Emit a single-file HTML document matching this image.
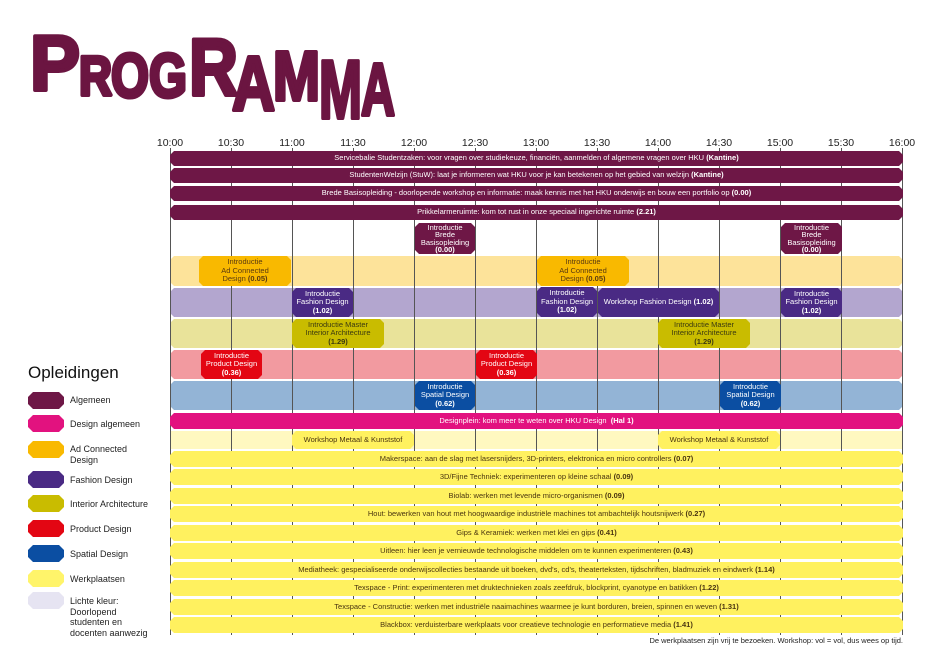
<!DOCTYPE html>
<html><head><meta charset="utf-8"><style>
body{margin:0;width:940px;height:671px;background:#fff;position:relative;overflow:hidden;font-family:"Liberation Sans",sans-serif}
.a{position:absolute}
.b{position:absolute;display:flex;align-items:center;justify-content:center;text-align:center;font-size:7.5px;line-height:8.5px;clip-path:polygon(4px 0,calc(100% - 4px) 0,100% 4px,100% calc(100% - 4px),calc(100% - 4px) 100%,4px 100%,0 calc(100% - 4px),0 4px);color:#fff;white-space:nowrap}
.b>span{display:block}
.g{background:#6e1746}.dp{background:#e2127f}
.ad{background:#f9b900;color:#5a3a10}.adl{background:#fde39a}
.fa{background:#4a2a84}.fal{background:#b3a6cf}
.ia{background:#c9bc00;color:#3b3a10}.ial{background:#e9e39a}
.pr{background:#e30613}.prl{background:#f29aa0}
.sp{background:#0b4ea2}.spl{background:#93b4d6}
.y{background:#fff15f;color:#4a3510}
.v{position:absolute;top:148px;height:487px;width:1px;background:#555}
.t{position:absolute;top:137px;font-size:10.5px;width:40px;margin-left:-20px;text-align:center;color:#222}
.lg{position:absolute;left:28px;width:36px;height:17px;clip-path:polygon(5px 0,31px 0,36px 5px,36px 12px,31px 17px,5px 17px,0 12px,0 5px)}
.lt{position:absolute;left:70px;font-size:9px;line-height:10.5px;color:#222}
</style></head><body>
<svg class="a" style="left:0;top:0" width="420" height="130">
<g fill="#6b1541" stroke="#6b1541" stroke-width="4" stroke-linejoin="round" font-family="Liberation Sans" font-weight="bold">
<text x="30" y="90" font-size="78" textLength="50" lengthAdjust="spacingAndGlyphs">P</text>
<text x="79" y="95" font-size="56" textLength="33" lengthAdjust="spacingAndGlyphs">R</text>
<text x="111" y="97" font-size="62" textLength="38" lengthAdjust="spacingAndGlyphs">O</text>
<text x="149" y="97" font-size="62" textLength="38" lengthAdjust="spacingAndGlyphs">G</text>
<text x="189" y="95" font-size="81" textLength="49" lengthAdjust="spacingAndGlyphs">R</text>
<text x="232" y="110" font-size="77" textLength="43" lengthAdjust="spacingAndGlyphs">A</text>
<text x="273" y="100" font-size="70" textLength="47" lengthAdjust="spacingAndGlyphs">M</text>
<text x="319" y="118" font-size="83" textLength="43" lengthAdjust="spacingAndGlyphs">M</text>
<text x="361" y="115" font-size="74" textLength="34" lengthAdjust="spacingAndGlyphs">A</text>
</g></svg>

<div class="t" style="left:170px">10:00</div><div class="t" style="left:231px">10:30</div><div class="t" style="left:292px">11:00</div><div class="t" style="left:353px">11:30</div><div class="t" style="left:414px">12:00</div><div class="t" style="left:475px">12:30</div><div class="t" style="left:536px">13:00</div><div class="t" style="left:597px">13:30</div><div class="t" style="left:658px">14:00</div><div class="t" style="left:719px">14:30</div><div class="t" style="left:780px">15:00</div><div class="t" style="left:841px">15:30</div><div class="t" style="left:902px">16:00</div>

<div class="b adl" style="left:170px;top:256px;width:733px;height:30px"></div>
<div class="b fal" style="left:170px;top:288px;width:733px;height:29px"></div>
<div class="b ial" style="left:170px;top:319px;width:733px;height:29px"></div>
<div class="b prl" style="left:170px;top:350px;width:733px;height:29px"></div>
<div class="b spl" style="left:170px;top:381px;width:733px;height:29px"></div>
<div class="a" style="left:170px;top:431px;width:733px;height:18px;background:#fff8c0"></div>

<div class="v" style="left:170px"></div><div class="v" style="left:231px"></div><div class="v" style="left:292px"></div><div class="v" style="left:353px"></div><div class="v" style="left:414px"></div><div class="v" style="left:475px"></div><div class="v" style="left:536px"></div><div class="v" style="left:597px"></div><div class="v" style="left:658px"></div><div class="v" style="left:719px"></div><div class="v" style="left:780px"></div><div class="v" style="left:841px"></div><div class="v" style="left:902px"></div>

<div class="b g" style="left:170px;top:151px;width:733px;height:15px"><span>Servicebalie Studentzaken: voor vragen over studiekeuze, financiën, aanmelden of algemene vragen over HKU <b>(Kantine)</b></span></div>
<div class="b g" style="left:170px;top:168px;width:733px;height:15px"><span>StudentenWelzijn (StuW): laat je informeren wat HKU voor je kan betekenen op het gebied van welzijn <b>(Kantine)</b></span></div>
<div class="b g" style="left:170px;top:186px;width:733px;height:15px"><span>Brede Basisopleiding - doorlopende workshop en informatie: maak kennis met het HKU onderwijs en bouw een portfolio op <b>(0.00)</b></span></div>
<div class="b g" style="left:170px;top:205px;width:733px;height:15px"><span>Prikkelarmeruimte: kom tot rust in onze speciaal ingerichte ruimte <b>(2.21)</b></span></div>
<div class="b g" style="left:415px;top:223px;width:60px;height:31px;line-height:7.2px"><span>Introductie<br>Brede<br>Basisopleiding<br><b>(0.00)</b></span></div>
<div class="b g" style="left:781px;top:223px;width:61px;height:31px;line-height:7.2px"><span>Introductie<br>Brede<br>Basisopleiding<br><b>(0.00)</b></span></div>

<div class="b ad" style="left:199px;top:256px;width:92px;height:30px"><span>Introductie<br>Ad Connected<br>Design <b>(0.05)</b></span></div>
<div class="b ad" style="left:537px;top:256px;width:92px;height:30px"><span>Introductie<br>Ad Connected<br>Design <b>(0.05)</b></span></div>

<div class="b fa" style="left:292px;top:288px;width:61px;height:29px"><span>Introductie<br>Fashion Design<br><b>(1.02)</b></span></div>
<div class="b fa" style="left:537px;top:287px;width:60px;height:30px"><span>Introductie<br>Fashion Design<br><b>(1.02)</b></span></div>
<div class="b fa" style="left:598px;top:288px;width:121px;height:29px"><span>Workshop Fashion Design <b>(1.02)</b></span></div>
<div class="b fa" style="left:781px;top:288px;width:61px;height:29px"><span>Introductie<br>Fashion Design<br><b>(1.02)</b></span></div>

<div class="b ia" style="left:292px;top:319px;width:92px;height:29px"><span>Introductie Master<br>Interior Architecture<br><b>(1.29)</b></span></div>
<div class="b ia" style="left:658px;top:319px;width:92px;height:29px"><span>Introductie Master<br>Interior Architecture<br><b>(1.29)</b></span></div>

<div class="b pr" style="left:201px;top:350px;width:61px;height:29px"><span>Introductie<br>Product Design<br><b>(0.36)</b></span></div>
<div class="b pr" style="left:476px;top:350px;width:61px;height:29px"><span>Introductie<br>Product Design<br><b>(0.36)</b></span></div>

<div class="b sp" style="left:415px;top:381px;width:60px;height:29px"><span>Introductie<br>Spatial Design<br><b>(0.62)</b></span></div>
<div class="b sp" style="left:720px;top:381px;width:61px;height:29px"><span>Introductie<br>Spatial Design<br><b>(0.62)</b></span></div>

<div class="b dp" style="left:170px;top:413px;width:733px;height:16px"><span>Designplein: kom meer te weten over HKU Design&nbsp; <b>(Hal 1)</b></span></div>

<div class="b y" style="left:292px;top:431px;width:122px;height:18px"><span>Workshop Metaal &amp; Kunststof</span></div>
<div class="b y" style="left:658px;top:431px;width:122px;height:18px"><span>Workshop Metaal &amp; Kunststof</span></div>

<div class="b y" style="left:170px;top:451px;width:733px;height:16px"><span>Makerspace: aan de slag met lasersnijders, 3D-printers, elektronica en micro controllers <b>(0.07)</b></span></div>
<div class="b y" style="left:170px;top:469px;width:733px;height:16px"><span>3D/Fijne Techniek: experimenteren op kleine schaal <b>(0.09)</b></span></div>
<div class="b y" style="left:170px;top:488px;width:733px;height:16px"><span>Biolab: werken met levende micro-organismen <b>(0.09)</b></span></div>
<div class="b y" style="left:170px;top:506px;width:733px;height:16px"><span>Hout: bewerken van hout met hoogwaardige industriële machines tot ambachtelijk houtsnijwerk <b>(0.27)</b></span></div>
<div class="b y" style="left:170px;top:525px;width:733px;height:16px"><span>Gips &amp; Keramiek: werken met klei en gips <b>(0.41)</b></span></div>
<div class="b y" style="left:170px;top:543px;width:733px;height:16px"><span>Uitleen: hier leen je vernieuwde technologische middelen om te kunnen experimenteren <b>(0.43)</b></span></div>
<div class="b y" style="left:170px;top:562px;width:733px;height:16px"><span>Mediatheek: gespecialiseerde onderwijscollecties bestaande uit boeken, dvd's, cd's, theaterteksten, tijdschriften, bladmuziek en eindwerk <b>(1.14)</b></span></div>
<div class="b y" style="left:170px;top:580px;width:733px;height:16px"><span>Texspace - Print: experimenteren met druktechnieken zoals zeefdruk, blockprint, cyanotype en batikken <b>(1.22)</b></span></div>
<div class="b y" style="left:170px;top:599px;width:733px;height:16px"><span>Texspace - Constructie: werken met industriële naaimachines waarmee je kunt borduren, breien, spinnen en weven <b>(1.31)</b></span></div>
<div class="b y" style="left:170px;top:617px;width:733px;height:16px"><span>Blackbox: verduisterbare werkplaats voor creatieve technologie en performatieve media <b>(1.41)</b></span></div>

<div class="a" style="left:500px;top:636px;width:403px;text-align:right;font-size:7.5px;color:#222">De werkplaatsen zijn vrij te bezoeken. Workshop: vol = vol, dus wees op tijd.</div>

<div class="a" style="left:28px;top:363px;font-size:17px;color:#111">Opleidingen</div>
<div class="lg g" style="top:392px"></div><div class="lt" style="top:395px">Algemeen</div>
<div class="lg dp" style="top:415px"></div><div class="lt" style="top:419px">Design algemeen</div>
<div class="lg ad" style="top:441px"></div><div class="lt" style="top:444px">Ad Connected<br>Design</div>
<div class="lg fa" style="top:471px"></div><div class="lt" style="top:475px">Fashion Design</div>
<div class="lg ia" style="top:495px"></div><div class="lt" style="top:499px">Interior Architecture</div>
<div class="lg pr" style="top:520px"></div><div class="lt" style="top:524px">Product Design</div>
<div class="lg sp" style="top:545px"></div><div class="lt" style="top:549px">Spatial Design</div>
<div class="lg" style="top:570px;background:#fff46a"></div><div class="lt" style="top:574px">Werkplaatsen</div>
<div class="lg" style="top:592px;background:#e6e4f2"></div><div class="lt" style="top:596px">Lichte kleur:<br>Doorlopend<br>studenten en<br>docenten aanwezig</div>
</body></html>
